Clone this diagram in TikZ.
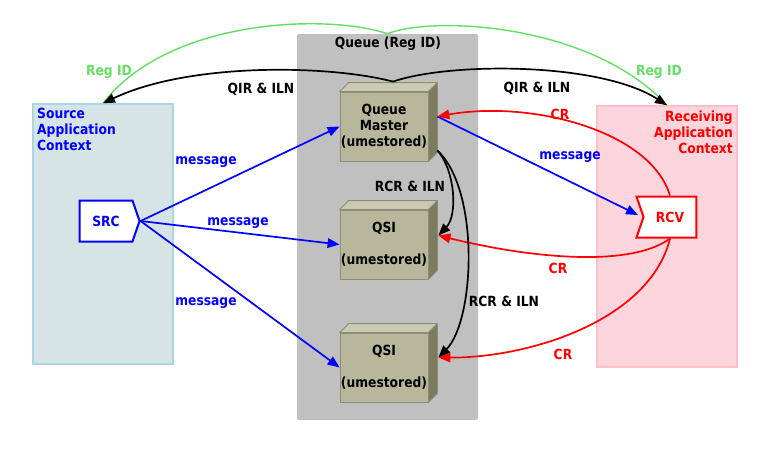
\documentclass[tikz,border=0pt]{standalone}
\usepackage{fontspec}
\newfontfamily\lblfont{DejaVu Sans}[FakeStretch=0.88]
\usetikzlibrary{arrows.meta,shapes.symbols,calc}
\definecolor{srcfill}{HTML}{D6E4E6}
\definecolor{srcedge}{HTML}{A9D6E5}
\definecolor{rcvfill}{HTML}{FDD6DD}
\definecolor{rcvedge}{HTML}{FFBFCA}
\definecolor{queuegray}{HTML}{C0C0C0}
\definecolor{cubefront}{HTML}{B7B79C}
\definecolor{cubetop}{HTML}{CBCBB3}
\definecolor{cubeside}{HTML}{7B7B5F}
\definecolor{cubeedge}{HTML}{8E8E76}
\definecolor{grn}{HTML}{62E062}
\definecolor{bluec}{HTML}{0000FF}
\definecolor{redc}{HTML}{FF0000}
\newcommand{\cubefaces}[1]{%
  \filldraw[fill=cubetop,draw=cubeedge,line width=0.8pt,line join=round]
    (#1.north west) -- ++(9,-9) -- ([shift={(9,-9)}]#1.north east) -- (#1.north east) -- cycle;
  \filldraw[fill=cubeside,draw=cubeedge,line width=0.8pt,line join=round]
    (#1.north east) -- ++(9,-9) -- ([shift={(9,-9)}]#1.south east) -- (#1.south east) -- cycle;}
\begin{document}
\begin{tikzpicture}[x=1pt,y=-1pt,
  font=\lblfont\bfseries\fontsize{14}{16}\selectfont,
  lbl/.style={inner sep=0pt,align=center},
  arr/.style={line width=1.7pt,-{Triangle[length=12pt,width=9.5pt]}},
  ctxbox/.style={inner sep=0pt,line width=1.5pt},
  cube/.style={draw=cubeedge,fill=cubefront,line width=0.8pt,minimum width=88pt,
    minimum height=69pt,inner sep=0pt,align=center},
  sig/.style={signal,signal pointer angle=142,fill=white,line width=2pt,
    minimum width=60pt,minimum height=41pt,inner sep=0pt}]
\useasboundingbox (0,0) rectangle (776,463);
\fill[white] (0,0) rectangle (776,463);
% containers
\node[ctxbox,fill=srcfill,draw=srcedge,minimum width=140pt,minimum height=260pt] (srcctx) at (103,234) {};
\node[ctxbox,fill=rcvfill,draw=rcvedge,minimum width=140pt,minimum height=261pt] (rcvctx) at (667,236.5) {};
\node[fill=queuegray,rounded corners=2pt,minimum width=181pt,minimum height=386pt,inner sep=0pt] (queue) at (387.5,227) {};
\node[lbl,text=bluec,align=left,anchor=west] (srclbl) at (37,129) {Source\\Application\\Context};
\node[lbl,text=redc,align=right,anchor=east] (rcvlbl) at (733,132) {Receiving\\Application\\Context};
\node[lbl] (queuelbl) at (388,44) {Queue (Reg ID)};
% cubes
\node[cube] (qm) at (384,126.5) {Queue\\Master\\(umestored)};
\node[cube] (qsi1) at (384,244.5) {QSI\\[16pt](umestored)};
\node[cube] (qsi2) at (384,367.5) {QSI\\[16pt](umestored)};
\cubefaces{qm}
\cubefaces{qsi1}
\cubefaces{qsi2}
% endpoints
\node[sig,signal to=east,draw=bluec,text=bluec] (src) at (106,221) {SRC};
\node[sig,signal from=west,signal to=nowhere,draw=redc,text=redc] (rcv) at (670,217) {RCV};
\coordinate (qmtop) at ([shift={(9,-10)}]qm.north);
\coordinate (qmR) at ([shift={(9,-10)}]qm.east);
\coordinate (qmRB) at ([shift={(9,24)}]qm.east);
\coordinate (qsi1R) at ([shift={(10,-9)}]qsi1.east);
\coordinate (qsi2R) at ([shift={(10,-10)}]qsi2.east);
\coordinate (rcvin) at ([shift={(-32,-2)}]rcv.center);
% Reg ID
\draw[grn,line width=1.4pt] (queue.north) .. controls (330,14) and (170,17) .. (srcctx.north);
\draw[grn,line width=1.4pt] (queue.north) .. controls (430,16) and (590,22) .. (rcvctx.north);
% QIR & ILN
\draw[arr,black] (qmtop) .. controls (330,65) and (190,62) .. (srcctx.north);
\draw[arr,black] (qmtop) .. controls (450,62) and (600,62) .. (rcvctx.north);
% messages
\draw[arr,bluec] (src.east) -- (qm.west);
\draw[arr,bluec] (src.east) -- (qsi1.west);
\draw[arr,bluec] (src.east) -- (qsi2.west);
\draw[arr,bluec] (qmR) -- (rcvin);
% CR
\draw[arr,redc] (rcv.north) .. controls (650,130) and (530,100) .. (qmR);
\draw[arr,redc] (rcv.south) .. controls (630,268) and (530,258) .. (qsi1R);
\draw[arr,redc] (rcv.south) .. controls (650,320) and (530,358) .. (qsi2R);
% RCR & ILN
\draw[arr,black] (qmRB) .. controls (455,170) and (458,215) .. (qsi1R);
\draw[arr,black] (qmRB) .. controls (480,190) and (475,320) .. (qsi2R);
% labels
\node[lbl,text=grn] (reg1) at (109,72) {Reg ID};
\node[lbl,text=grn] (reg2) at (659,72) {Reg ID};
\node[lbl] (qir1) at (261,89) {QIR \& ILN};
\node[lbl] (qir2) at (537,88) {QIR \& ILN};
\node[lbl,text=bluec] (m1) at (206,162) {message};
\node[lbl,text=bluec] (m2) at (238,223) {message};
\node[lbl,text=bluec] (m3) at (206,303) {message};
\node[lbl,text=bluec] (m4) at (570,157) {message};
\node[lbl,text=redc] (cr1) at (560,114) {CR};
\node[lbl,text=redc] (cr2) at (558,268) {CR};
\node[lbl,text=redc] (cr3) at (563,354) {CR};
\node[lbl] (rcr1) at (410,186) {RCR \& ILN};
\node[lbl] (rcr2) at (504,301) {RCR \& ILN};
\end{tikzpicture}
\end{document}
